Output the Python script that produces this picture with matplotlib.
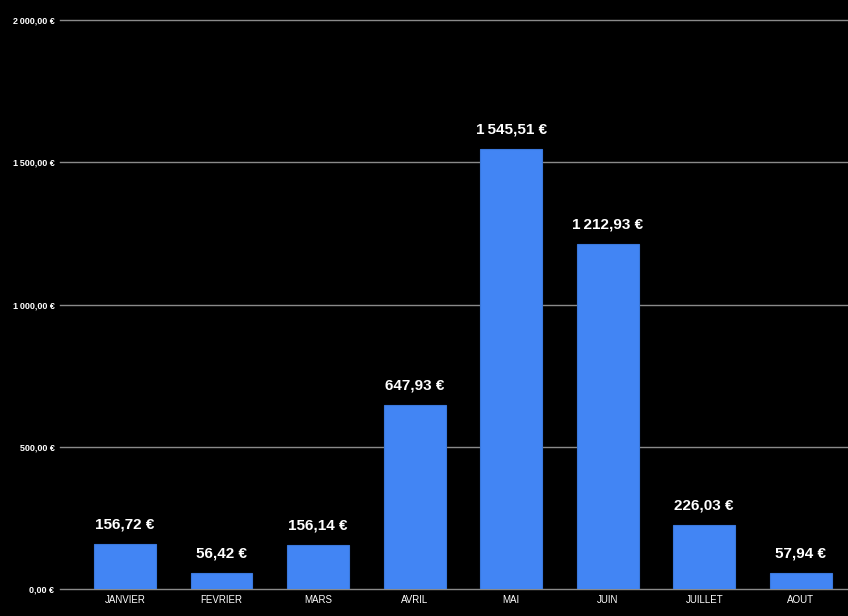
import matplotlib
matplotlib.use("Agg")
import matplotlib.pyplot as plt

months = ["JANVIER", "FEVRIER", "MARS", "AVRIL", "MAI", "JUIN", "JUILLET", "AOUT"]
values = [156.72, 56.42, 156.14, 647.93, 1545.51, 1212.93, 226.03, 57.94]
yticks = [0, 500, 1000, 1500, 2000]


def euro(v):
    s = f"{v:,.2f}"
    s = s.replace(",", "\u2009").replace(".", ",")
    return s + " €"


plt.rcParams['font.family'] = ['Liberation Sans', 'DejaVu Sans']

fig = plt.figure(figsize=(8.48, 6.16), dpi=100, facecolor="black")
ax = fig.add_axes([0.0708, 0.0438, 0.9292, 0.9237], facecolor="black")

x = list(range(len(months)))
ax.bar(x, values, width=0.64, color="#4285F4", edgecolor="#3a78dc", linewidth=0.8, zorder=3)

for xi, v in zip(x, values):
    ax.annotate(euro(v), (xi, v), xytext=(0, 9), textcoords="offset points",
                ha="center", va="bottom", color="white", fontsize=11, fontweight="bold")

ax.set_xlim(-0.674, 7.49)
ax.set_ylim(0, 2000)
ax.set_yticks(yticks)
ax.set_yticklabels([euro(t) for t in yticks], fontsize=6.5, color="white", fontweight="bold")
ax.set_xticks(x)
ax.set_xticklabels(months, fontsize=7, color="white")
ax.tick_params(axis="y", length=0, pad=4)
ax.tick_params(axis="x", length=0, pad=4)
ax.yaxis.grid(True, color="#8a8a8a", linewidth=1, zorder=0)
for gl in ax.get_ygridlines():
    gl.set_clip_on(False)
for s in ax.spines.values():
    s.set_visible(False)

fig.savefig("out.png", dpi=100, facecolor="black")
